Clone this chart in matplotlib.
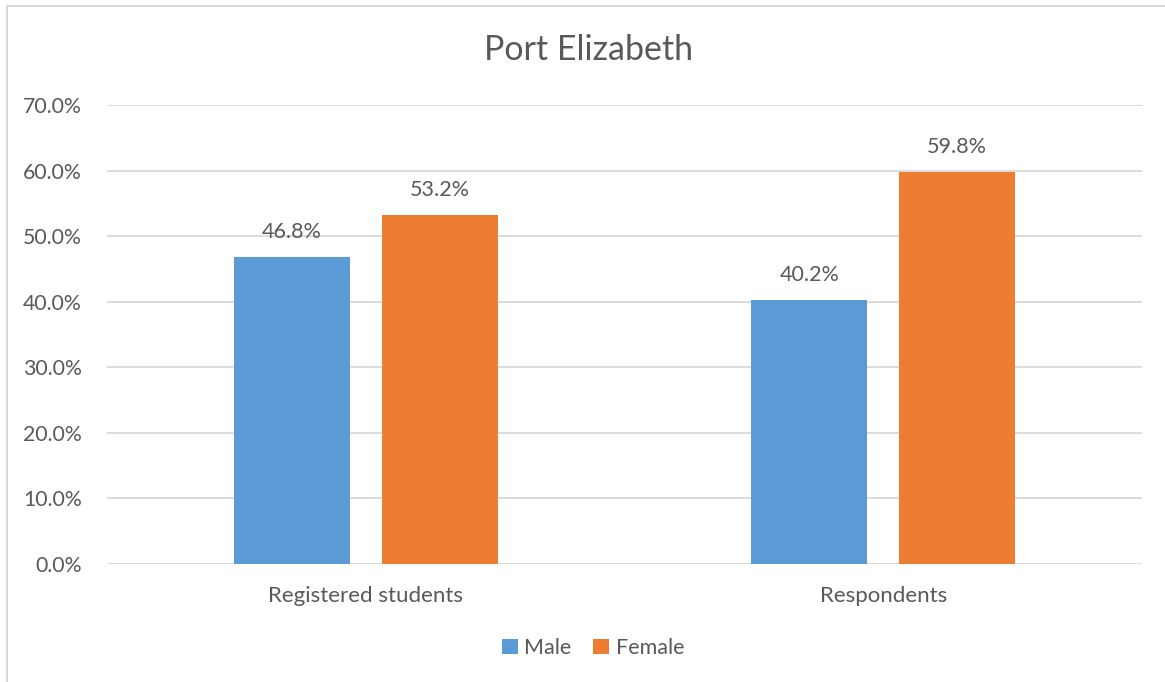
import numpy as np
import matplotlib.pyplot as plt

plt.rcParams['font.family'] = ['Lato', 'DejaVu Sans']

categories = ['Registered students', 'Respondents']
male = [46.8, 40.2]
female = [53.2, 59.8]
series_names = ['Male', 'Female']
yticks = [0, 10, 20, 30, 40, 50, 60, 70]

TEXT = '#595959'
GRID = '#d9d9d9'

fig = plt.figure(figsize=(11.65, 6.82), dpi=100)
ax = fig.add_axes([107 / 1165, 1 - 564 / 682, (1142 - 107) / 1165, (564 - 105) / 682])

x = np.arange(len(categories))
w = 0.224
off = 0.143
b1 = ax.bar(x - off, male, w, color='#5b9bd5', label=series_names[0], zorder=3)
b2 = ax.bar(x + off, female, w, color='#ed7d31', label=series_names[1], zorder=3)

for bars in (b1, b2):
    for b in bars:
        ax.annotate('%.1f%%' % b.get_height(), (b.get_x() + b.get_width() / 2, b.get_height()),
                    xytext=(0, 11), textcoords='offset points', ha='center', va='bottom',
                    fontsize=15.5, color=TEXT)

ax.set_xlim(-0.5, 1.5)
ax.set_ylim(0, 70)
ax.set_yticks(yticks)
ax.set_yticklabels(['%.1f%%' % t for t in yticks], fontsize=15.3, color=TEXT)
ax.set_xticks(x)
ax.set_xticklabels(categories, fontsize=16, color=TEXT)
ax.tick_params(axis='both', length=0)
ax.tick_params(axis='y', pad=18)
ax.tick_params(axis='x', pad=16)
ax.grid(axis='y', color=GRID, linewidth=1.3, zorder=0)
for s in ax.spines.values():
    s.set_visible(False)

fig.text(589 / 1165, 1 - 50 / 682, 'Port Elizabeth', ha='center', va='center', fontsize=24.5, color=TEXT)

leg = fig.legend(handles=[b1, b2], loc='center', bbox_to_anchor=(593 / 1165, 1 - 648 / 682), ncol=2,
                 frameon=False, fontsize=15.5, handlelength=0.75, handleheight=0.75,
                 handletextpad=0.3, columnspacing=1.0)
for t in leg.get_texts():
    t.set_color(TEXT)

# border of the chart area (only left and top visible in the crop)
fig.add_artist(plt.Line2D([7 / 1165, 7 / 1165], [0, 1 - 6 / 682], color=GRID, linewidth=1.5))
fig.add_artist(plt.Line2D([7 / 1165, 1], [1 - 6 / 682, 1 - 6 / 682], color=GRID, linewidth=1.5))

fig.savefig('out.png', dpi=100)
